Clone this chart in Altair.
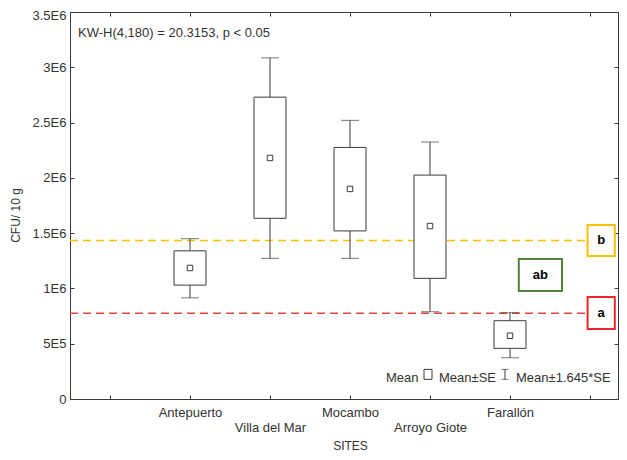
import altair as alt
import pandas as pd

# ---- data ----
sites = ["Antepuerto", "Villa del Mar", "Mocambo", "Arroyo Giote", "Farallón"]
site_pos = [1, 2, 3, 4, 5]
means = [1.185e6, 2.18e6, 1.90e6, 1.564e6, 0.572e6]
se_lo = [1.03e6, 1.634e6, 1.52e6, 1.091e6, 0.458e6]
se_hi = [1.34e6, 2.73e6, 2.275e6, 2.025e6, 0.708e6]
ci_lo = [0.915e6, 1.272e6, 1.272e6, 0.789e6, 0.373e6]
ci_hi = [1.45e6, 3.085e6, 2.52e6, 2.324e6, 0.78e6]

ref_values = [1.434e6, 0.775e6]
ref_colors = ["#FFC000", "#E8423C"]

letters = ["b", "ab", "a"]
letter_colors = ["#FFC000", "#548235", "#F0262A"]
letter_x0 = [5.97, 5.11, 5.97]
letter_x1 = [6.31, 5.65, 6.31]
letter_y0 = [1.293e6, 0.977e6, 0.633e6]
letter_y1 = [1.574e6, 1.266e6, 0.922e6]

y_ticks = [0, 5e5, 1e6, 1.5e6, 2e6, 2.5e6, 3e6, 3.5e6]
x_ticks = [0, 1, 2, 3, 4, 5, 6]

stat_text = "KW-H(4,180) = 20.3153, p < 0.05"
legend_words = ["Mean", "Mean±SE", "Mean±1.645*SE"]
legend_word_x = [3.45, 4.1125, 5.075]

FONT = "Liberation Sans"
TXT = "#333333"
LINE = "#3c3c3c"

df = pd.DataFrame({"site": sites, "pos": site_pos, "mean": means,
                   "se_lo": se_lo, "se_hi": se_hi, "ci_lo": ci_lo, "ci_hi": ci_hi})
ref_df = pd.DataFrame({"y": ref_values, "color": ref_colors,
                       "x0": [-0.5, -0.5], "x1": [5.97, 5.97]})
let_df = pd.DataFrame({"t": letters, "color": letter_colors, "x0": letter_x0, "x1": letter_x1,
                       "y0": letter_y0, "y1": letter_y1})
let_df["xc"] = (let_df.x0 + let_df.x1) / 2
let_df["yc"] = (let_df.y0 + let_df.y1) / 2

xscale = alt.Scale(domain=[-0.5, 6.35], nice=False, zero=False, padding=0)
yscale = alt.Scale(domain=[0, 3.5e6], nice=False, zero=False, padding=0)

names = [""] + sites + [""]
arr = "[" + ",".join("'" + s + "'" for s in names) + "]"
x_label_expr = f"(datum.value % 2 == 0) ? ['', {arr}[datum.value]] : {arr}[datum.value]"
y_label_expr = ("datum.value == 0 ? '0' : (datum.value < 1000000 ? format(datum.value/100000, 'd') + 'E5'"
                " : format(datum.value/1000000, '.1~f') + 'E6')")

inward = alt.ExprRef(expr="-4")

x_axis = alt.Axis(values=x_ticks, labelExpr=x_label_expr, title="SITES", grid=False,
                  domainColor=LINE, tickColor=LINE, tickSize=inward, labelPadding=11,
                  labelFont=FONT, labelFontSize=13, labelColor=TXT, labelLineHeight=15,
                  labelBaseline="top", titleFont=FONT, titleFontSize=12, titleFontWeight="normal",
                  titleColor=TXT, titleX=280, titleY=46, titleBaseline="middle")
y_axis = alt.Axis(values=y_ticks, labelExpr=y_label_expr, title="CFU/ 10 g", grid=False,
                  domainColor=LINE, tickColor=LINE, tickSize=inward, labelPadding=8,
                  labelFont=FONT, labelFontSize=13, labelColor=TXT, labelBaseline="middle",
                  labelOffset={"condition": {"test": "datum.value >= 3500000", "value": 3},
                               "value": 0},
                  titleFont=FONT, titleFontSize=12, titleFontWeight="normal", titleColor=TXT,
                  titleX=-55, titleY=203, titleAngle=270, titleBaseline="middle", titleAlign="center")
x_top = alt.Axis(orient="top", values=x_ticks, labels=False, domain=False, title=None, grid=False,
                 tickColor=LINE, tickSize=inward)
y_right = alt.Axis(orient="right", values=y_ticks, labels=False, domain=False, title=None, grid=False,
                   tickColor=LINE, tickSize=inward)

refs = alt.Chart(ref_df).mark_rule(strokeDash=[8, 5], strokeWidth=1.5).encode(
    x=alt.X("x0:Q", scale=xscale, axis=x_top), x2="x1:Q",
    y=alt.Y("y:Q", scale=yscale, axis=y_right),
    color=alt.Color("color:N", scale=None))

base = alt.Chart(df)
whisk = base.mark_rule(color=LINE, strokeWidth=1).encode(
    x=alt.X("pos:Q", scale=xscale, axis=None),
    y=alt.Y("ci_lo:Q", scale=yscale, axis=None), y2="ci_hi:Q")
cap_lo = base.mark_tick(orient="horizontal", size=18, thickness=1, color=LINE).encode(
    x=alt.X("pos:Q", scale=xscale, axis=None), y=alt.Y("ci_lo:Q", scale=yscale, axis=None))
cap_hi = base.mark_tick(orient="horizontal", size=18, thickness=1, color=LINE).encode(
    x=alt.X("pos:Q", scale=xscale, axis=None), y=alt.Y("ci_hi:Q", scale=yscale, axis=None))
boxes = base.mark_bar(size=32, fill="white", stroke=LINE, strokeWidth=1).encode(
    x=alt.X("pos:Q", scale=xscale, axis=x_axis),
    y=alt.Y("se_lo:Q", scale=yscale, axis=y_axis), y2="se_hi:Q")
mean_pts = base.mark_square(size=30, filled=True, fill="white", stroke=LINE, strokeWidth=1, opacity=1).encode(
    x=alt.X("pos:Q", scale=xscale, axis=None), y=alt.Y("mean:Q", scale=yscale, axis=None))

let_boxes = alt.Chart(let_df).mark_rect(fill="white", strokeWidth=2).encode(
    x=alt.X("x0:Q", scale=xscale, axis=None), x2="x1:Q",
    y=alt.Y("y0:Q", scale=yscale, axis=None), y2="y1:Q",
    stroke=alt.Stroke("color:N", scale=None))
let_text = alt.Chart(let_df).mark_text(font=FONT, fontSize=13, fontWeight="bold", color="black").encode(
    x=alt.X("xc:Q", scale=xscale, axis=None), y=alt.Y("yc:Q", scale=yscale, axis=None), text="t:N")

ann_df = pd.DataFrame({"x": [-0.4], "y": [3.31e6], "t": [stat_text]})
ann = alt.Chart(ann_df).mark_text(font=FONT, fontSize=13, color=TXT, align="left", baseline="middle").encode(
    x=alt.X("x:Q", scale=xscale, axis=None), y=alt.Y("y:Q", scale=yscale, axis=None), text="t:N")

leg_df = pd.DataFrame({"x": legend_word_x, "y": [0.158e6] * 3, "t": legend_words})
leg_txt = alt.Chart(leg_df).mark_text(font=FONT, fontSize=13, color=TXT, align="left", baseline="alphabetic").encode(
    x=alt.X("x:Q", scale=xscale, axis=None), y=alt.Y("y:Q", scale=yscale, axis=None), text="t:N")
leg_box_df = pd.DataFrame({"x0": [3.925], "x1": [4.025], "y0": [0.178e6], "y1": [0.268e6]})
leg_box = alt.Chart(leg_box_df).mark_rect(fill="white", stroke=LINE, strokeWidth=1).encode(
    x=alt.X("x0:Q", scale=xscale, axis=None), x2="x1:Q",
    y=alt.Y("y0:Q", scale=yscale, axis=None), y2="y1:Q")
leg_i_df = pd.DataFrame({"x": [4.9375], "y0": [0.178e6], "y1": [0.268e6]})
leg_i_rule = alt.Chart(leg_i_df).mark_rule(color=LINE, strokeWidth=1).encode(
    x=alt.X("x:Q", scale=xscale, axis=None), y=alt.Y("y0:Q", scale=yscale, axis=None), y2="y1:Q")
leg_i_lo = alt.Chart(leg_i_df).mark_tick(orient="horizontal", size=7, thickness=1, color=LINE).encode(
    x=alt.X("x:Q", scale=xscale, axis=None), y=alt.Y("y0:Q", scale=yscale, axis=None))
leg_i_hi = alt.Chart(leg_i_df).mark_tick(orient="horizontal", size=7, thickness=1, color=LINE).encode(
    x=alt.X("x:Q", scale=xscale, axis=None), y=alt.Y("y1:Q", scale=yscale, axis=None))

chart = alt.layer(refs, whisk, cap_lo, cap_hi, boxes, mean_pts, let_boxes, let_text, ann,
                  leg_txt, leg_box, leg_i_rule, leg_i_lo, leg_i_hi).resolve_axis(
    x="independent", y="independent").properties(
    width=548, height=387,
    autosize=alt.AutoSizeParams(type="none"),
    padding={"left": 62, "top": 4, "right": 1, "bottom": 53},
).configure_view(stroke=LINE, strokeWidth=1)

chart.save("out.html", embed_options={"renderer": "svg", "actions": False})
